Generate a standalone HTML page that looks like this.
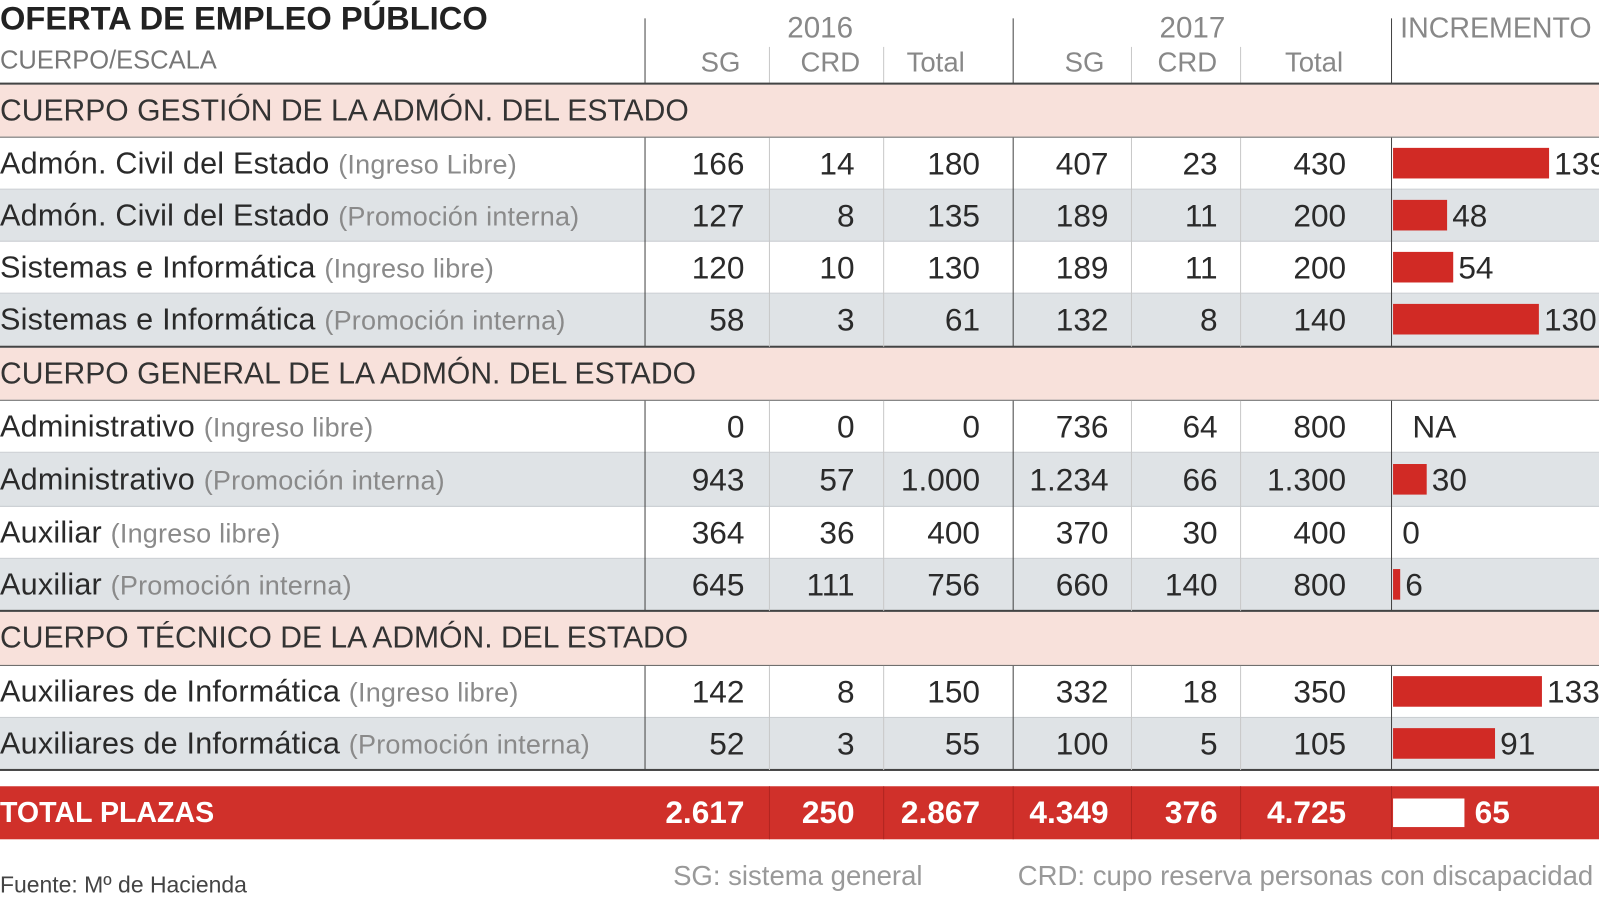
<!DOCTYPE html>
<html><head><meta charset="utf-8"><style>
body{margin:0;width:1599px;height:900px;background:#fff;overflow:hidden;font-family:"Liberation Sans",sans-serif;color:#2a2a2a}
#w{position:absolute;left:0;top:0;width:1568px;height:883px;transform:scale(1.0198);transform-origin:0 0}
#w div{position:absolute;box-sizing:border-box}
.t{white-space:nowrap}
.row{left:0;width:1568px;height:51px}
.sec{background:#f8e1db;font-size:29.5px;line-height:51px;color:#333}
.g{background:#dfe3e6}
.lbl{left:0;font-size:30px;line-height:51px;letter-spacing:0.2px}
.lbl span{color:#8a8a8a;font-size:26.5px}
.n{font-size:31px;line-height:51px;text-align:right}
.vl{width:1px;background:#444}
.vs{width:1px;background:#c8c8c8}
.bar{background:#d12a25;height:30px}
.hl{left:0;width:1568px;height:2px;background:#444}
</style></head><body><div id="w">
<div class="t" style="left:0;top:0px;font-size:32px;font-weight:bold;color:#222">OFERTA DE EMPLEO PÚBLICO</div>
<div class="t" style="left:0;top:45px;font-size:25px;color:#777">CUERPO/ESCALA</div>
<div class="t" style="left:772px;top:12px;font-size:29px;color:#888">2016</div>
<div class="t" style="left:1137px;top:12px;font-size:29px;color:#888">2017</div>
<div class="t" style="left:1373px;top:12px;font-size:28px;color:#888">INCREMENTO %</div>
<div class="t" style="left:687px;top:46px;font-size:27px;color:#888">SG</div>
<div class="t" style="left:785px;top:46px;font-size:27px;color:#888">CRD</div>
<div class="t" style="left:889px;top:46px;font-size:27px;color:#888">Total</div>
<div class="t" style="left:1044px;top:46px;font-size:27px;color:#888">SG</div>
<div class="t" style="left:1135px;top:46px;font-size:27px;color:#888">CRD</div>
<div class="t" style="left:1260px;top:46px;font-size:27px;color:#888">Total</div>
<div class="vs" style="left:754px;top:46px;height:35px"></div>
<div class="vs" style="left:866px;top:46px;height:35px"></div>
<div class="vs" style="left:1109px;top:46px;height:35px"></div>
<div class="vs" style="left:1216px;top:46px;height:35px"></div>

<div class="row sec" style="top:83px">CUERPO GESTIÓN DE LA ADMÓN. DEL ESTADO</div>
<div class="row" style="top:135px"></div>
<div class="row g" style="top:186px"></div>
<div class="row" style="top:237px"></div>
<div class="row g" style="top:288px"></div>
<div class="row sec" style="top:341px">CUERPO GENERAL DE LA ADMÓN. DEL ESTADO</div>
<div class="row" style="top:393px"></div>
<div class="row g" style="top:444px;height:53px"></div>
<div class="row" style="top:497px"></div>
<div class="row g" style="top:548px"></div>
<div class="row sec" style="top:600px;height:53px">CUERPO TÉCNICO DE LA ADMÓN. DEL ESTADO</div>
<div class="row" style="top:653px"></div>
<div class="row g" style="top:704px"></div>
<div class="row" style="top:771px;height:52px;background:#d0302a"></div>

<div class="hl" style="top:81px"></div>
<div class="hl" style="top:134px;height:1px;background:#666"></div>
<div class="hl" style="top:339px"></div>
<div class="hl" style="top:392px;height:1px;background:#666"></div>
<div class="hl" style="top:598px"></div>
<div class="hl" style="top:652px;height:1px;background:#666"></div>
<div class="hl" style="top:754px"></div>
<div class="hl" style="top:185px;height:1px;background:#c8ccd0"></div>
<div class="hl" style="top:236px;height:1px;background:#c8ccd0"></div>
<div class="hl" style="top:287px;height:1px;background:#c8ccd0"></div>
<div class="hl" style="top:443px;height:1px;background:#c8ccd0"></div>
<div class="hl" style="top:496px;height:1px;background:#c8ccd0"></div>
<div class="hl" style="top:547px;height:1px;background:#c8ccd0"></div>
<div class="hl" style="top:703px;height:1px;background:#c8ccd0"></div>

<div class="vl" style="left:632px;top:18px;height:64px"></div>
<div class="vl" style="left:993px;top:18px;height:64px"></div>
<div class="vl" style="left:1364px;top:18px;height:64px"></div>
<div class="vl" style="left:632px;top:135px;height:205px"></div>
<div class="vl" style="left:993px;top:135px;height:205px"></div>
<div class="vl" style="left:1364px;top:135px;height:205px"></div>
<div class="vl" style="left:632px;top:393px;height:206px"></div>
<div class="vl" style="left:993px;top:393px;height:206px"></div>
<div class="vl" style="left:1364px;top:393px;height:206px"></div>
<div class="vl" style="left:632px;top:653px;height:102px"></div>
<div class="vl" style="left:993px;top:653px;height:102px"></div>
<div class="vl" style="left:1364px;top:653px;height:102px"></div>
<div class="vs" style="left:754px;top:135px;height:205px"></div><div class="vs" style="left:866px;top:135px;height:205px"></div><div class="vs" style="left:1109px;top:135px;height:205px"></div><div class="vs" style="left:1216px;top:135px;height:205px"></div>
<div class="vs" style="left:754px;top:393px;height:206px"></div><div class="vs" style="left:866px;top:393px;height:206px"></div><div class="vs" style="left:1109px;top:393px;height:206px"></div><div class="vs" style="left:1216px;top:393px;height:206px"></div>
<div class="vs" style="left:754px;top:653px;height:102px"></div><div class="vs" style="left:866px;top:653px;height:102px"></div><div class="vs" style="left:1109px;top:653px;height:102px"></div><div class="vs" style="left:1216px;top:653px;height:102px"></div>
<div class="vs" style="left:754px;top:771px;height:52px;background:#b02520"></div><div class="vs" style="left:866px;top:771px;height:52px;background:#b02520"></div><div class="vs" style="left:993px;top:771px;height:52px;background:#b02520"></div><div class="vs" style="left:1109px;top:771px;height:52px;background:#b02520"></div><div class="vs" style="left:1216px;top:771px;height:52px;background:#b02520"></div><div class="vs" style="left:1364px;top:771px;height:52px;background:#b02520"></div>

<div id="rows"></div>
<div class="t" style="left:0;top:855px;font-size:22.5px;color:#444">Fuente: Mº de Hacienda</div>
<div class="t" style="left:660px;top:844px;font-size:27px;color:#999">SG: sistema general</div>
<div class="t" style="left:998px;top:844px;font-size:27px;color:#999">CRD: cupo reserva personas con discapacidad</div>
</div>
<script>
const R=[
[135,"Admón. Civil del Estado","(Ingreso Libre)",["166","14","180","407","23","430"],139],
[186,"Admón. Civil del Estado","(Promoción interna)",["127","8","135","189","11","200"],48],
[237,"Sistemas e Informática","(Ingreso libre)",["120","10","130","189","11","200"],54],
[288,"Sistemas e Informática","(Promoción interna)",["58","3","61","132","8","140"],130],
[393,"Administrativo","(Ingreso libre)",["0","0","0","736","64","800"],"NA"],
[445,"Administrativo","(Promoción interna)",["943","57","1.000","1.234","66","1.300"],30],
[497,"Auxiliar","(Ingreso libre)",["364","36","400","370","30","400"],0],
[548,"Auxiliar","(Promoción interna)",["645","111","756","660","140","800"],6],
[653,"Auxiliares de Informática","(Ingreso libre)",["142","8","150","332","18","350"],133],
[704,"Auxiliares de Informática","(Promoción interna)",["52","3","55","100","5","105"],91]];
const E=[730,838,961,1087,1194,1320];
let h="";
for(const r of R){
 h+=`<div class="t lbl" style="top:${r[0]}px">${r[1]} <span>${r[2]}</span></div>`;
 r[3].forEach((v,i)=>{h+=`<div class="t n" style="top:${r[0]}px;left:${E[i]-150}px;width:150px;">${v}</div>`});
 if(r[4]==="NA"){h+=`<div class="t n" style="top:${r[0]}px;left:1385px;text-align:left">NA</div>`}
 else{const w=Math.max(4,Math.round(r[4]*1.1));
  if(r[4]>0)h+=`<div class="bar" style="top:${r[0]+10}px;left:1366px;width:${w}px"></div>`;
  const x=r[4]>0?1366+w+5:1375;
  h+=`<div class="t n" style="top:${r[0]}px;left:${x}px;text-align:left">${r[4]}</div>`;}
}
const T=["2.617","250","2.867","4.349","376","4.725"];
h+=`<div class="t" style="left:0;top:771px;font-size:28px;font-weight:bold;color:#fff;line-height:52px">TOTAL PLAZAS</div>`;
T.forEach((v,i)=>{h+=`<div class="t n" style="top:771px;line-height:52px;left:${E[i]-150}px;width:150px;font-weight:bold;color:#fff">${v}</div>`});
h+=`<div style="left:1366px;top:783px;width:70px;height:28px;background:#fff"></div>`;
h+=`<div class="t n" style="top:771px;line-height:52px;left:1446px;text-align:left;font-weight:bold;color:#fff">65</div>`;
document.getElementById("rows").outerHTML=h;
</script>
</body></html>
